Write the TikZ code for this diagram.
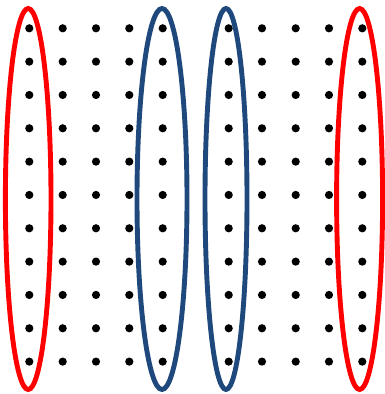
\documentclass[tikz,border=0pt]{standalone}
\definecolor{ringred}{RGB}{255,0,0}
\definecolor{ringblue}{RGB}{31,73,125}
\tikzset{
  griddot/.style={fill=black,draw=none},
  ring/.style={line width=4.9pt}
}
\begin{document}
\begin{tikzpicture}[x=1pt,y=-1pt]
  \useasboundingbox (0,0) rectangle (385,394);
  % dots
  \foreach \cx in {29.3,62.7,96,129.3,162.7,228.7,262,295.7,329,362.3} {
    \foreach \r in {0,...,10} {
      \fill[griddot] (\cx,28.3+33.33*\r) circle (4.1);
    }
  }
  % ellipses
  \draw[ring,draw=ringred]  (28.2,199) ellipse (22.8 and 190.5);
  \draw[ring,draw=ringblue] (162,199) ellipse (25 and 190.5);
  \draw[ring,draw=ringblue] (226,199) ellipse (21 and 190.5);
  \draw[ring,draw=ringred]  (359.6,199) ellipse (23 and 190.5);
\end{tikzpicture}
\end{document}
